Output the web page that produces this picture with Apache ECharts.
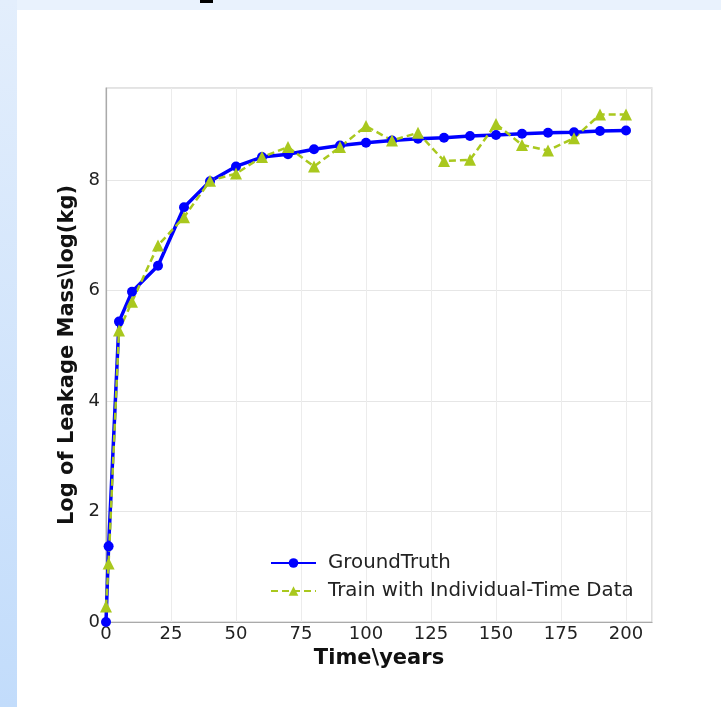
<!DOCTYPE html>
<html>
<head>
<meta charset="utf-8">
<script src="https://cdn.jsdelivr.net/npm/echarts@6/dist/echarts.min.js"></script>
<style>
  html, body { margin: 0; padding: 0; }
  body {
    width: 721px; height: 707px; position: relative; overflow: hidden;
    background: #e9f2fd;
  }
  #side { position: absolute; left: 0; top: 0; width: 17px; height: 707px;
    background: linear-gradient(to bottom, #e3eefc, #c2dcfb); }
  #chart { position: absolute; left: 17px; top: 10px; width: 704px; height: 697px; background: #fff; }
  #mark { position: absolute; left: 200px; top: 0; width: 13px; height: 3px; background: #000; }
</style>
</head>
<body>
<div id="side"></div>
<div id="mark"></div>
<div id="chart"></div>
<script>
// years
var years = [0, 1, 5, 10, 20, 30, 40, 50, 60, 70, 80, 90, 100, 110, 120, 130, 140, 150, 160, 170, 180, 190, 200];
// log(kg)
var groundTruth = [0, 1.37, 5.44, 5.98, 6.45, 7.51, 7.98, 8.25, 8.42, 8.47, 8.56, 8.63, 8.68, 8.72, 8.75, 8.77, 8.80, 8.82, 8.84, 8.86, 8.87, 8.89, 8.90];
var individualTime = [0.28, 1.06, 5.28, 5.8, 6.82, 7.33, 7.99, 8.12, 8.42, 8.6, 8.25, 8.6, 8.98, 8.72, 8.86, 8.35, 8.37, 9.02, 8.64, 8.54, 8.76, 9.19, 9.19];
var xTicks = [0, 25, 50, 75, 100, 125, 150, 175, 200];
var yTicks = [0, 2, 4, 6, 8];

function pairs(xs, ys) {
    var out = [];
    for (var i = 0; i < xs.length; i++) out.push([xs[i], ys[i]]);
    return out;
}

var chart = echarts.init(document.getElementById('chart'));
var tickFont = { fontFamily: 'DejaVu Sans', fontSize: 18, color: '#222' };
var titleFont = { fontFamily: 'DejaVu Sans', fontSize: 21, fontWeight: 'bold', color: '#111' };
var option = {
    animation: false,
    grid: {
        left: 89, top: 78, width: 546, height: 534,
        show: true, borderColor: '#c8c8c8', borderWidth: 1.2
    },
    xAxis: {
        type: 'value', min: 0, max: 210, interval: 25,
        name: 'Time\\years', nameLocation: 'middle', nameGap: 24,
        nameTextStyle: titleFont,
        axisLine: { show: true, lineStyle: { color: '#aaa', width: 1.2 } },
        axisTick: { show: false },
        axisLabel: Object.assign({ margin: 3, showMaxLabel: false,
            formatter: function (v) { return xTicks.indexOf(v) >= 0 ? String(v) : ''; } }, tickFont),
        splitLine: { show: true, lineStyle: { color: '#ececec', width: 1 } }
    },
    yAxis: {
        type: 'value', min: 0, max: 9.67, interval: 2,
        name: 'Log of Leakage Mass\\log(kg)', nameLocation: 'middle', nameGap: 22,
        nameTextStyle: titleFont,
        axisLine: { show: true, lineStyle: { color: '#aaa', width: 1.2 } },
        axisTick: { show: false },
        axisLabel: Object.assign({ margin: 6, showMaxLabel: false,
            formatter: function (v) { return yTicks.indexOf(v) >= 0 ? String(v) : ''; } }, tickFont),
        splitLine: { show: true, lineStyle: { color: '#e6e6e6', width: 1 } }
    },
    legend: {
        orient: 'vertical', left: 248, top: 538, itemGap: 8,
        itemWidth: 45, itemHeight: 12,
        textStyle: { fontFamily: 'DejaVu Sans', fontSize: 19.8, color: '#222', padding: [0, 0, 0, 7] },
        data: ['GroundTruth', 'Train with Individual-Time Data']
    },
    series: [{
        name: 'GroundTruth', type: 'line',
        data: pairs(years, groundTruth),
        symbol: 'circle', symbolSize: 10,
        lineStyle: { color: '#0000ff', width: 3.5 },
        itemStyle: { color: '#0000ff' }
    }, {
        name: 'Train with Individual-Time Data', type: 'line',
        data: pairs(years, individualTime),
        symbol: 'triangle', symbolSize: 12,
        lineStyle: { color: '#a9c81e', width: 2.5, type: [7, 4] },
        itemStyle: { color: '#a9c81e' }
    }]
};
chart.setOption(option);
</script>
</body>
</html>
